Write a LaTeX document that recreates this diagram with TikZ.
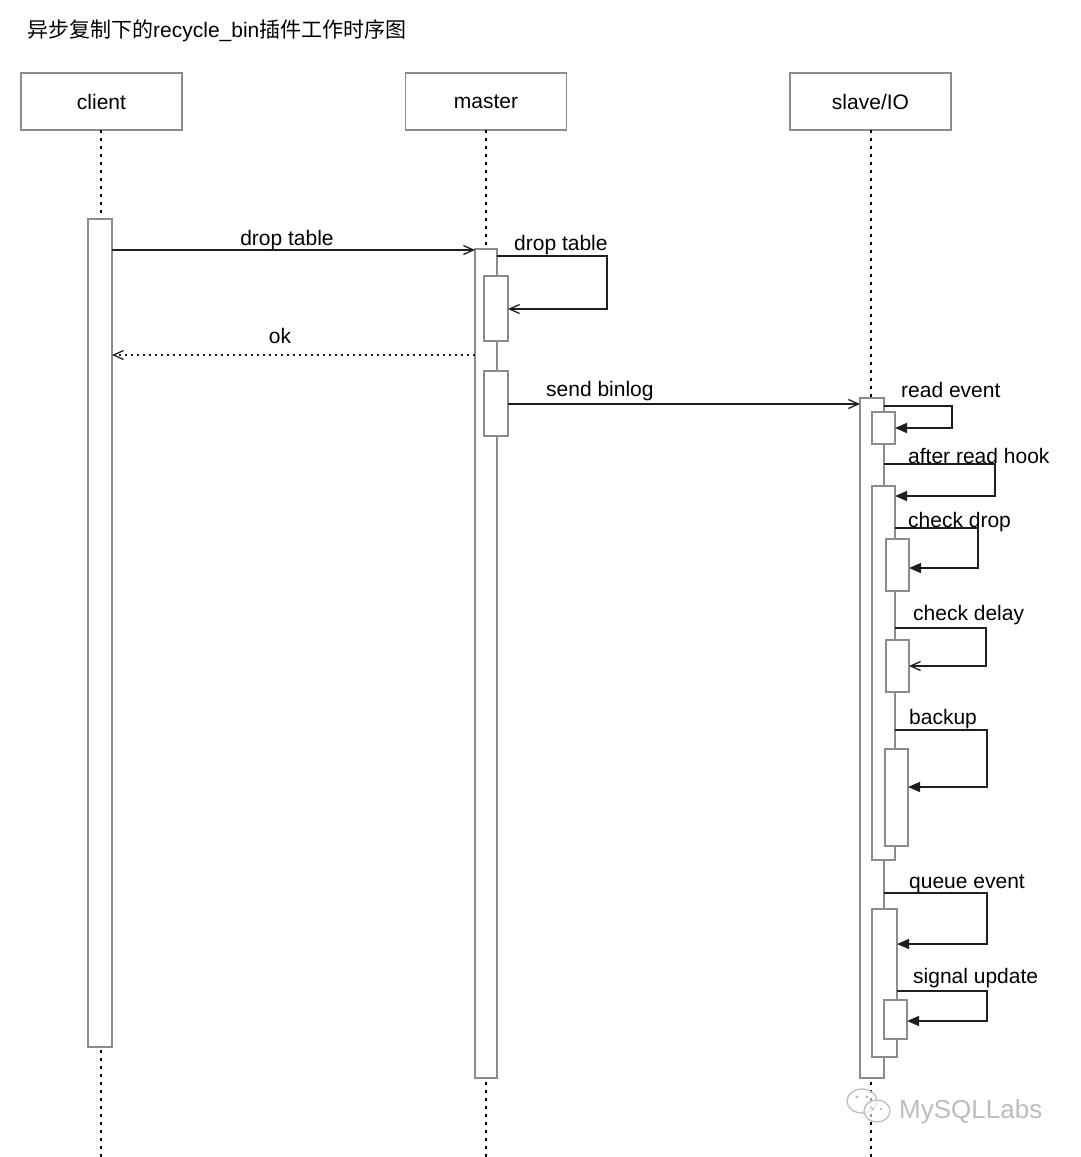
\documentclass[tikz,border=0pt]{standalone}
\usepackage{fontspec}
\setmainfont{Liberation Sans}
\newfontfamily\cjk{Noto Sans CJK SC}
\usetikzlibrary{arrows.meta}
\definecolor{boxgray}{HTML}{8C8C8C}
\definecolor{msgcol}{HTML}{1E1E1E}
\definecolor{wmgray}{HTML}{BDBDBD}
\newcommand\lblfont{\fontsize{21}{25}\selectfont}
\tikzset{
  headbox/.style={draw=boxgray, line width=1.3pt, fill=white, minimum width=161, minimum height=57,
                  inner sep=0pt, outer sep=0pt, font=\lblfont},
  actbox/.style={draw=boxgray, line width=1.3pt, fill=white, inner sep=0pt, outer sep=0pt},
  lifeline/.style={draw=black, line width=2.5pt, dash pattern=on 3pt off 5pt},
  msg/.style={draw=msgcol, line width=1.4pt},
  openhead/.style={msg, -{Straight Barb[length=10pt,width=9pt,line width=1.3pt]}},
  fillhead/.style={msg, -{Triangle[length=12pt,width=10pt]}},
  replyline/.style={msg, dash pattern=on 2pt off 4pt, -{Straight Barb[length=10pt,width=9pt,line width=1.3pt]}},
  lbl/.style={font=\lblfont, inner sep=0pt, anchor=base west, text=black},
  lblc/.style={font=\lblfont, inner sep=0pt, anchor=base, text=black},
}
\begin{document}
\begin{tikzpicture}[x=1pt,y=-1pt]
\useasboundingbox (0,0) rectangle (1080,1157);
\fill[white] (0,0) rectangle (1080,1157);

% title
\node[inner sep=0pt, anchor=base west, font=\fontsize{21}{25}\selectfont] (title) at (27,37)
  {{\cjk 异步复制下的}recycle\_bin{\cjk 插件工作时序图}};

% headers
\node[headbox] (client) at (101.5,101.5) {client};
\node[headbox] (master) at (486,101.5) {master};
\node[headbox] (slave) at (870.5,101.5) {slave/IO};

% lifelines
\coordinate (clientend) at (101,1157);
\coordinate (masterend) at (486,1157);
\coordinate (slaveend) at (871,1157);
\draw[lifeline] (client.south -| clientend) -- (clientend);
\draw[lifeline] (master.south -| masterend) -- (masterend);
\draw[lifeline] (slave.south -| slaveend) -- (slaveend);

% activation boxes
\node[actbox, minimum width=24, minimum height=828] (ca) at (100,633) {};
\node[actbox, minimum width=22, minimum height=829] (ma) at (486,663.5) {};
\node[actbox, minimum width=24, minimum height=65] (mb1) at (496,308.5) {};
\node[actbox, minimum width=24, minimum height=65] (mb2) at (496,403.5) {};
\node[actbox, minimum width=24, minimum height=680] (sa) at (872,738) {};
\node[actbox, minimum width=23, minimum height=32] (sb1) at (883.5,428) {};
\node[actbox, minimum width=23, minimum height=374] (sb2) at (883.5,673) {};
\node[actbox, minimum width=23, minimum height=52] (sc1) at (897.5,565) {};
\node[actbox, minimum width=23, minimum height=52] (sc2) at (897.5,666) {};
\node[actbox, minimum width=23, minimum height=97] (sc3) at (896.5,797.5) {};
\node[actbox, minimum width=25, minimum height=148] (sb3) at (884.5,983) {};
\node[actbox, minimum width=23, minimum height=39] (sc4) at (895.5,1019.5) {};

% client -> master
\draw[openhead] (ca.east |- 0,250) -- (ma.west |- 0,250);
\node[lblc] (l1) at (287,245) {drop table};
% master self
\draw[openhead] (ma.east |- 0,256) -| (607,309) -- (mb1.east |- 0,309);
\node[lbl] (l2) at (514,250) {drop table};
% ok
\draw[replyline] (ma.west |- 0,355) -- (ca.east |- 0,355);
\node[lblc] (l3) at (280,343) {ok};
% send binlog
\draw[openhead] (mb2.east |- 0,404) -- (sa.west |- 0,404);
\node[lbl] (l4) at (546,396) {send binlog};

% slave self messages
\draw[fillhead] (sa.east |- 0,406) -| (952,428) -- (sb1.east |- 0,428);
\node[lbl] (l5) at (901,397) {read event};
\draw[fillhead] (sa.east |- 0,464) -| (995,496) -- (sb2.east |- 0,496);
\node[lbl] (l6) at (908,463) {after read hook};
\draw[fillhead] (sb2.east |- 0,528) -| (978,568) -- (sc1.east |- 0,568);
\node[lbl] (l7) at (908,527) {check drop};
\draw[openhead] (sb2.east |- 0,628) -| (986,666) -- (sc2.east |- 0,666);
\node[lbl] (l8) at (913,620) {check delay};
\draw[fillhead] (sb2.east |- 0,730) -| (987,787) -- (sc3.east |- 0,787);
\node[lbl] (l9) at (909,724) {backup};
\draw[fillhead] (sa.east |- 0,893) -| (987,944) -- (sb3.east |- 0,944);
\node[lbl] (l10) at (909,888) {queue event};
\draw[fillhead] (sb3.east |- 0,991) -| (987,1021) -- (sc4.east |- 0,1021);
\node[lbl] (l11) at (913,983) {signal update};

% watermark
\draw[wmgray, line width=1.3pt, fill=white, fill opacity=0.6] (862,1101) ellipse [x radius=15, y radius=12];
\draw[wmgray, line width=1.3pt, fill=white, fill opacity=0.6] (877,1111) ellipse [x radius=13, y radius=11];
\fill[wmgray] (857,1097) circle (1.6) (867,1097) circle (1.6) (873,1109) circle (1.4) (881,1109) circle (1.4);
\node[inner sep=0pt, anchor=base west, font=\fontsize{26}{30}\selectfont, text=wmgray] (wm) at (899,1118) {MySQLLabs};
\end{tikzpicture}
\end{document}
